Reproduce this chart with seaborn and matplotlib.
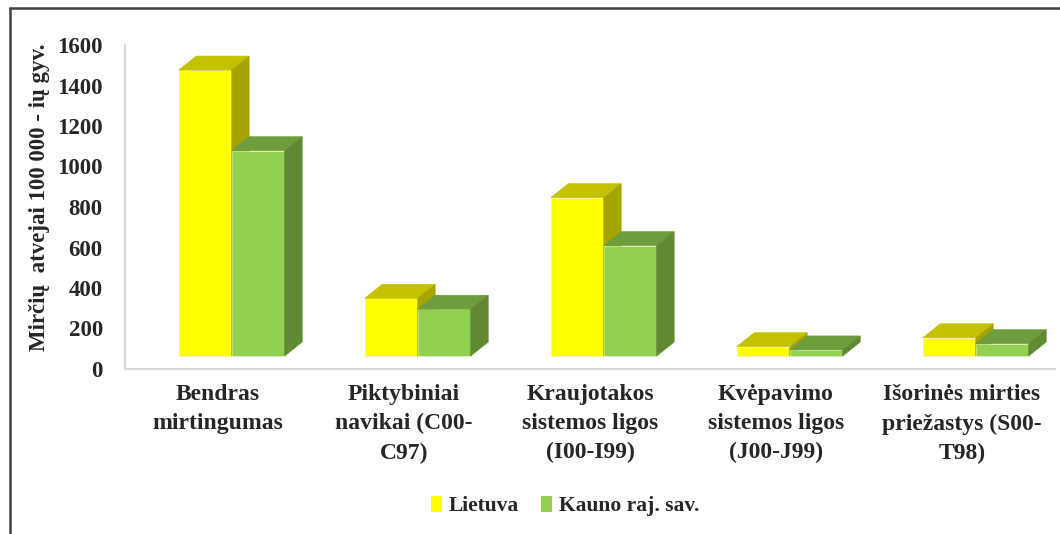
import pandas as pd
import numpy as np
import matplotlib
matplotlib.use("Agg")
import matplotlib.pyplot as plt
import matplotlib.transforms as mtransforms
from matplotlib.patches import Polygon, Patch
import seaborn as sns

# mortality per 100 000 inhabitants
categories = ["Bendras\nmirtingumas",
              "Piktybiniai\nnavikai (C00-\nC97)",
              "Kraujotakos\nsistemos ligos\n(I00-I99)",
              "Kvėpavimo\nsistemos ligos\n(J00-J99)",
              "Išorinės mirties\npriežastys (S00-\nT98)"]
series = ["Lietuva", "Kauno raj. sav."]
lietuva = [1412, 285, 782, 46, 90]
kauno = [1014, 231, 545, 30, 61]

df = pd.DataFrame({
    "cat": categories * 2,
    "series": [series[0]] * 5 + [series[1]] * 5,
    "val": lietuva + kauno,
})

front = {"Lietuva": "#FFFF00", "Kauno raj. sav.": "#92D050"}
top = {"Lietuva": "#C4C200", "Kauno raj. sav.": "#6E9D3E"}
side = {"Lietuva": "#A6A500", "Kauno raj. sav.": "#5F8933"}

sns.set_style("white")
plt.rcParams['font.family'] = ['Liberation Serif', 'DejaVu Serif']
plt.rcParams['font.weight'] = 'bold'

fig = plt.figure(figsize=(10.6, 5.34), dpi=100)
W, H = 1060, 534
ax = fig.add_axes([125 / W, 1 - 369 / H, 930 / W, 324 / H])

sns.barplot(data=df, x="cat", y="val", hue="series", palette=front,
            width=0.57, saturation=1, legend=False, ax=ax,
            edgecolor="#F2F2C0", linewidth=0.4)

ax.set_xlim(-0.5, 4.5)
ax.set_ylim(0, 1600)

# 3D look: depth of the bars in pixels, converted to data units
ddx = 17.5 * 5 / 930
ddy = 14 * 1600 / 324
shift = mtransforms.ScaledTranslation(0.137, 0.13, fig.dpi_scale_trans)

for i, p in enumerate(ax.patches):
    name = series[0] if i < 5 else series[1]
    z = 2 if i < 5 else 3
    x0, w, h = p.get_x(), p.get_width(), p.get_height()
    x1 = x0 + w
    p.set_transform(ax.transData + shift)
    p.set_zorder(z)
    p.set_clip_on(False)
    tp = Polygon([(x0, h), (x1, h), (x1 + ddx, h + ddy), (x0 + ddx, h + ddy)],
                 closed=True, facecolor=top[name], edgecolor=top[name], lw=0.4,
                 transform=ax.transData + shift, zorder=z + 0.1, clip_on=False)
    sp = Polygon([(x1, 0), (x1 + ddx, ddy), (x1 + ddx, h + ddy), (x1, h)],
                 closed=True, facecolor=side[name], edgecolor=side[name], lw=0.4,
                 transform=ax.transData + shift, zorder=z + 0.1, clip_on=False)
    ax.add_patch(tp)
    ax.add_patch(sp)

ax.set_yticks(range(0, 1601, 200))
ax.set_yticklabels([str(v) for v in range(0, 1601, 200)], fontsize=16.5, fontweight='bold')
ax.set_xticks(range(5))
ax.set_xticklabels(categories, fontsize=17, fontweight='bold', linespacing=1.5)
ax.tick_params(axis='y', length=0, pad=16)
ax.tick_params(axis='x', length=0, pad=11)
ax.set_xlabel("")
ax.set_ylabel("")

for s in ["top", "right"]:
    ax.spines[s].set_visible(False)
for s in ["left", "bottom"]:
    ax.spines[s].set_color("#D9D9D9")
    ax.spines[s].set_linewidth(1.5)

fig.text(40 / W, 1 - 197 / H, "Mirčių  atvejai 100 000 - ių gyv.", rotation=90,
         ha='center', va='center', fontsize=16.5, fontweight='bold')

handles = [Patch(facecolor=front[s], edgecolor='none', label=s) for s in series]
fig.legend(handles=handles, loc='center', bbox_to_anchor=(565 / W, 1 - 506 / H),
           ncol=2, frameon=False, fontsize=15.5, handlelength=0.55, handleheight=0.8,
           handletextpad=0.3, columnspacing=1.0)

# outer chart border
fig.add_artist(plt.Line2D([10 / W, 10 / W], [0, 1 - 8 / H], color="#404040", lw=1.8))
fig.add_artist(plt.Line2D([10 / W, 1], [1 - 8 / H, 1 - 8 / H], color="#404040", lw=1.8))

fig.savefig("out.png", dpi=100)
